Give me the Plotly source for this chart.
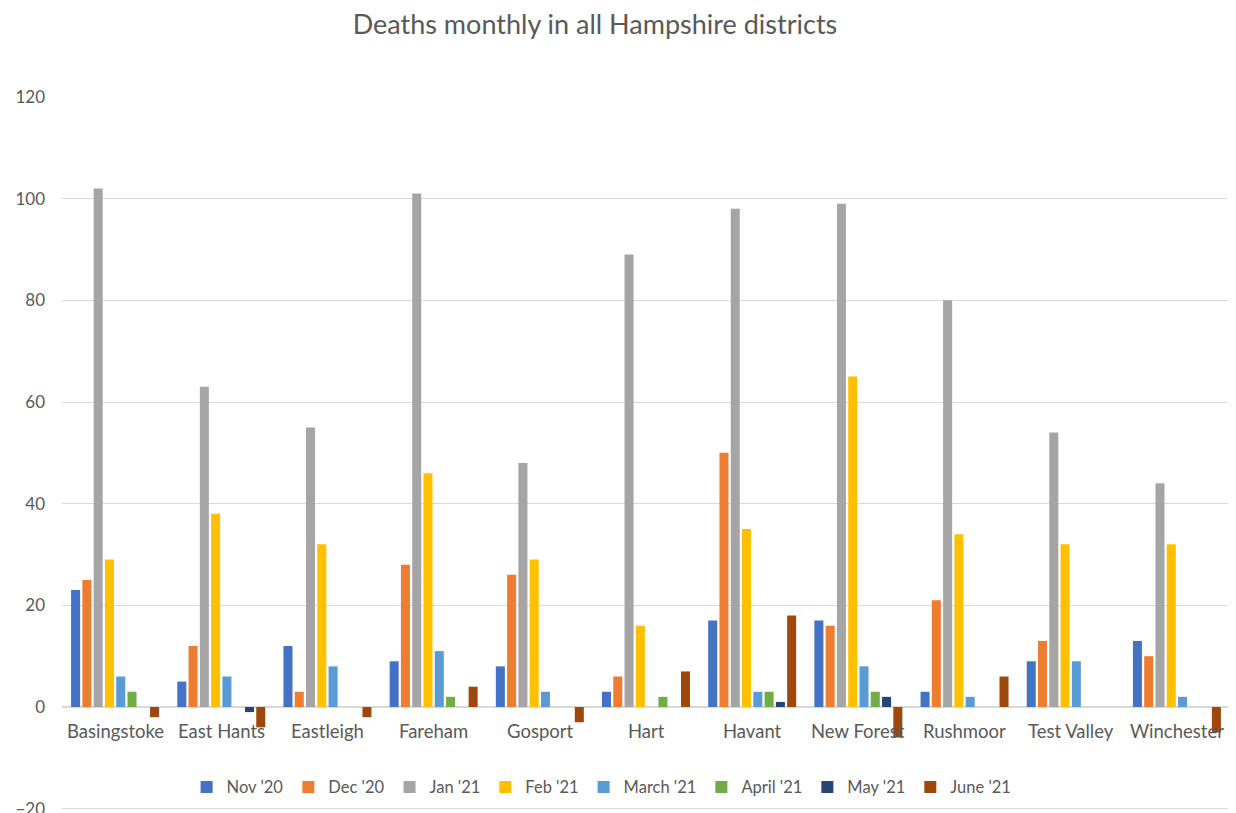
import plotly.graph_objects as go

# Districts and monthly deaths
districts = ["Basingstoke", "East Hants", "Eastleigh", "Fareham", "Gosport", "Hart",
             "Havant", "New Forest", "Rushmoor", "Test Valley", "Winchester"]

nov_20 = [23, 5, 12, 9, 8, 3, 17, 17, 3, 9, 13]
dec_20 = [25, 12, 3, 28, 26, 6, 50, 16, 21, 13, 10]
jan_21 = [102, 63, 55, 101, 48, 89, 98, 99, 80, 54, 44]
feb_21 = [29, 38, 32, 46, 29, 16, 35, 65, 34, 32, 32]
mar_21 = [6, 6, 8, 11, 3, 0, 3, 8, 2, 9, 2]
apr_21 = [3, 0, 0, 2, 0, 2, 3, 3, 0, 0, 0]
may_21 = [0, -1, 0, 0, 0, 0, 1, 2, 0, 0, 0]
jun_21 = [-2, -4, -2, 4, -3, 7, 18, -6, 6, 0, -5]

series = [
    ("Nov '20", nov_20, "#4472C4"),
    ("Dec '20", dec_20, "#ED7D31"),
    ("Jan '21", jan_21, "#A5A5A5"),
    ("Feb '21", feb_21, "#FFC000"),
    ("March '21", mar_21, "#5B9BD5"),
    ("April '21", apr_21, "#70AD47"),
    ("May '21", may_21, "#264478"),
    ("June '21", jun_21, "#9E480E"),
]

font_family = "Lato, Open Sans, sans-serif"
text_col = "#595959"

fig = go.Figure()
for name, vals, col in series:
    fig.add_trace(go.Bar(x=districts, y=vals, name=name, marker_color=col,
                         marker_line_width=0))

# category labels sit just under the zero line, like Excel
for d in districts:
    fig.add_annotation(x=d, y=0, xref="x", yref="y", text=d, showarrow=False,
                       yanchor="top", yshift=-11,
                       font=dict(size=18.5, color=text_col, family=font_family))

fig.update_layout(
    width=1228,
    height=805,
    paper_bgcolor="white",
    plot_bgcolor="white",
    barmode="group",
    bargap=0.15,
    bargroupgap=0.2,
    title=dict(
        text="Deaths monthly in all Hampshire districts",
        x=0.478, xanchor="center", y=0.980, yanchor="middle",
        font=dict(size=27, color=text_col, family=font_family)
    ),
    font=dict(family=font_family, color=text_col),
    margin=dict(l=54, r=6, t=89, b=0),
    legend=dict(
        orientation="h",
        x=0.462, xanchor="center",
        y=0.036, yanchor="middle",
        bgcolor="rgba(0,0,0,0)",
        font=dict(size=16.5, color=text_col, family=font_family),
        itemwidth=30,
        traceorder="normal"
    ),
    xaxis=dict(
        showticklabels=False,
        showgrid=False,
        zeroline=False,
        showline=False,
        automargin=False
    ),
    yaxis=dict(
        range=[-20.85, 120],
        tickvals=[-20, 0, 20, 40, 60, 80, 100, 120],
        showgrid=True,
        gridcolor="#D9D9D9",
        gridwidth=1,
        zeroline=True,
        zerolinecolor="#D9D9D9",
        zerolinewidth=1.5,
        tickfont=dict(size=17, color=text_col, family=font_family),
        ticklabelstandoff=16,
        ticklabeloverflow="allow",
        automargin=False
    )
)

fig.write_html("out.html")
